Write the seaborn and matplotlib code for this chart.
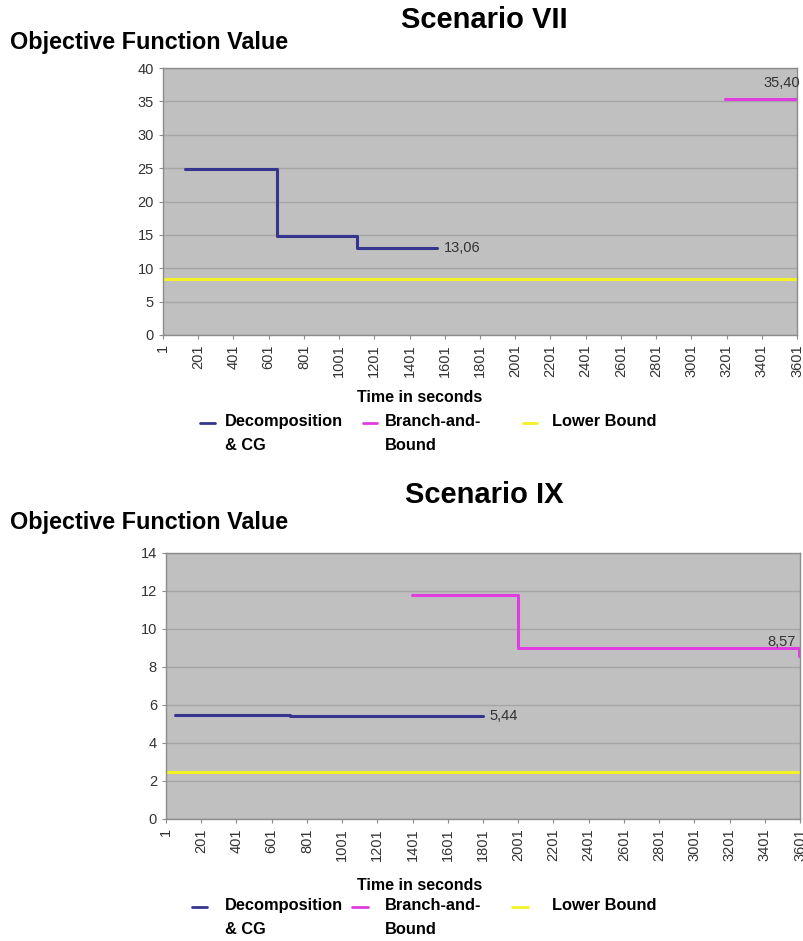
import matplotlib
matplotlib.use("Agg")
import matplotlib.pyplot as plt
from matplotlib.lines import Line2D
import seaborn as sns

sns.set_style("white")
plt.rcParams["font.family"] = ["Liberation Sans", "DejaVu Sans"]
plt.rcParams["text.color"] = "black"

# Scenario VII
vii_dec_t = [125, 646, 1100, 1555]
vii_dec_v = [24.8, 14.8, 13.06, 13.06]
vii_bb_t = [3193, 3601]
vii_bb_v = [35.40, 35.40]
vii_lb_t = [1, 3601]
vii_lb_v = [8.35, 8.35]

# Scenario IX
ix_dec_t = [50, 705, 1800]
ix_dec_v = [5.47, 5.44, 5.44]
ix_bb_t = [1400, 2001, 3597, 3601]
ix_bb_v = [11.8, 9.0, 8.57, 8.57]
ix_lb_t = [1, 3601]
ix_lb_v = [2.5, 2.5]

x_ticks = list(range(1, 3602, 200))
labels = ["Decomposition\n& CG", "Branch-and-\nBound", "Lower Bound"]
colors = ["#35358f", "#e03ce0", "#f2f226"]

W, H = 804, 941
fig = plt.figure(figsize=(W / 100, H / 100), dpi=100)


def fx(px):
    return px / W


def fy(py):
    return 1 - py / H


def panel(rect, series, ymax, ystep, title, title_y, ylab_y, xlab_y,
          notes, leg_y, leg_pos):
    l, t, r, b = rect
    ax = fig.add_axes([fx(l), fy(b), (r - l) / W, (b - t) / H])
    ax.set_facecolor("#c0c0c0")
    for (tt, vv), lab, c in zip(series, labels, colors):
        sns.lineplot(x=tt, y=vv, ax=ax, color=c, lw=2.2, legend=False,
                     drawstyle="steps-post", sort=False)
    ax.set_xlim(1, 3601)
    ax.set_ylim(0, ymax)
    ax.set_yticks(range(0, ymax + 1, ystep))
    ax.set_xticks(x_ticks)
    ax.set_xticklabels([str(v) for v in x_ticks], rotation=90)
    ax.yaxis.grid(True, color="#a6a6a6", lw=1)
    ax.set_axisbelow(True)
    for s in ax.spines.values():
        s.set_color("#8c8c8c")
        s.set_linewidth(1)
    ax.tick_params(axis="both", labelsize=10.5, colors="#333333", length=3,
                   color="#8c8c8c", direction="out", left=True, bottom=True)
    ax.set_xlabel("")
    ax.set_ylabel("")
    for x, y, txt, ha, dx, dy in notes:
        ax.annotate(txt, (x, y), xytext=(dx, dy), textcoords="offset points",
                    ha=ha, va="center", fontsize=10.5, color="#333333")
    fig.text(fx(484), fy(title_y), title, ha="center", va="center",
             fontsize=21, fontweight="bold")
    fig.text(fx(10), fy(ylab_y), "Objective Function Value", ha="left",
             va="center", fontsize=16.8, fontweight="bold")
    fig.text(fx(420), fy(xlab_y), "Time in seconds", ha="center",
             va="center", fontsize=11.5, fontweight="bold")
    # legend
    for (h0, h1, tx), lab, c in zip(leg_pos, labels, colors):
        fig.add_artist(Line2D([fx(h0), fx(h1)], [fy(leg_y), fy(leg_y)],
                              color=c, lw=2, transform=fig.transFigure))
        fig.text(fx(tx), fy(leg_y - 9), lab, ha="left", va="top",
                 fontsize=11.8, fontweight="bold", linespacing=1.75)
    return ax


panel((163, 68, 797, 335),
      [(vii_dec_t, vii_dec_v), (vii_bb_t, vii_bb_v), (vii_lb_t, vii_lb_v)],
      40, 5, "Scenario VII", 20, 42, 397,
      [(vii_dec_t[-1], vii_dec_v[-1], "13,06", "left", 5, 0),
       (vii_bb_t[-1], vii_bb_v[-1], "35,40", "right", 2, 11)],
      423, [(200, 215, 225), (363, 377, 385), (523, 537, 552)])

panel((166, 553, 800, 819),
      [(ix_dec_t, ix_dec_v), (ix_bb_t, ix_bb_v), (ix_lb_t, ix_lb_v)],
      14, 2, "Scenario IX", 495, 522, 885,
      [(ix_dec_t[-1], ix_dec_v[-1], "5,44", "left", 5, 0),
       (ix_bb_t[-1], ix_bb_v[-1], "8,57", "right", -3, 10)],
      907, [(192, 207, 225), (352, 368, 385), (512, 528, 552)])

fig.savefig("out.png", dpi=100)
